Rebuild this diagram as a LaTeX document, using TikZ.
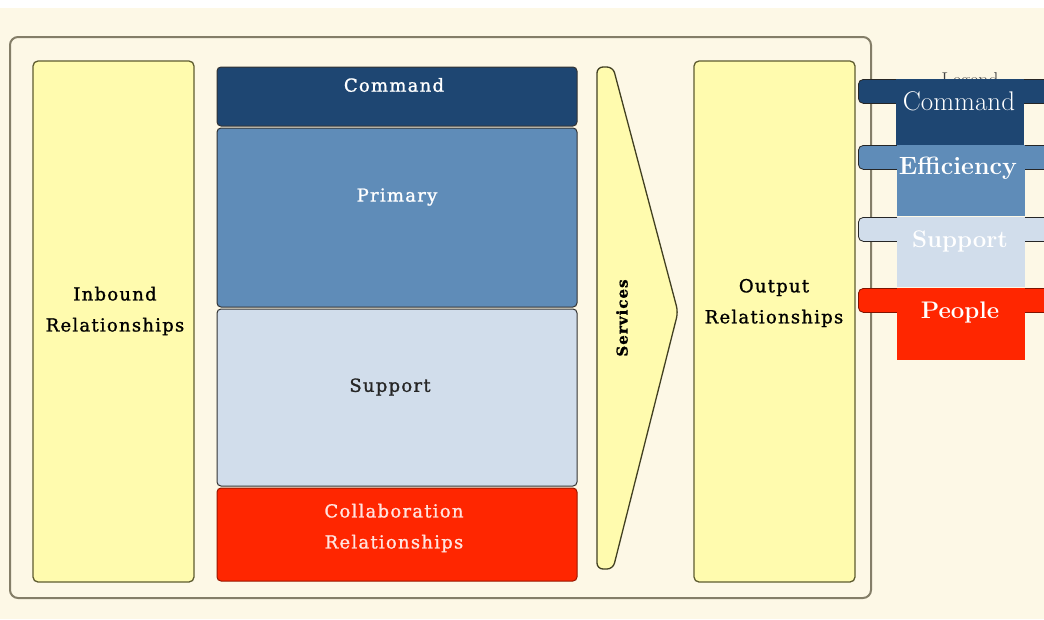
\documentclass[tikz,border=0pt]{standalone}
\usepackage{fontspec}
\newfontfamily\diafont[LetterSpace=7,FakeBold=1.2]{DejaVu Serif}
\definecolor{bgcream}{HTML}{FDF8E6}
\definecolor{yfill}{HTML}{FFFBAE}
\definecolor{ydraw}{HTML}{5E5C30}
\definecolor{cmdblue}{HTML}{1E4672}
\definecolor{primblue}{HTML}{5F8CB8}
\definecolor{suplight}{HTML}{D1DDEB}
\definecolor{colred}{HTML}{FF2600}
\definecolor{framec}{HTML}{847E68}
\definecolor{collabtxt}{HTML}{FFE4E0}
\tikzset{
  ybox/.style={draw=ydraw, line width=1.3pt, fill=yfill, rounded corners=5pt, inner sep=0pt},
  stackbox/.style={draw=black!80, line width=1pt, rounded corners=4pt, inner sep=0pt, minimum width=360pt},
  diatext/.style={font=\diafont\fontsize{18}{31}\selectfont, align=center, inner sep=0pt},
  legbar/.style={draw=black!85, line width=0.8pt, rounded corners=5pt, inner sep=0pt, minimum width=240pt, minimum height=24pt, anchor=north west},
  legrect/.style={inner sep=0pt, minimum width=128pt, anchor=north west},
  legtext/.style={font=\fontsize{24}{28}\selectfont, text=white, inner sep=0pt}
}
\begin{document}
\begin{tikzpicture}[x=1pt,y=-1pt]
\useasboundingbox (0,0) rectangle (1044,619);
\fill[white] (0,0) rectangle (1044,8);
\fill[bgcream] (0,8) rectangle (1044,619);
% frame
\node[draw=framec, line width=2pt, rounded corners=8pt, minimum width=861pt, minimum height=561pt, inner sep=0pt] (frame) at (440.5,317.5) {};
% inbound / output
\node[ybox, minimum width=161pt, minimum height=521pt] (inb) at (113.5,321.5) {};
\node[diatext] (inbt) at (115,311) {Inbound\\Relationships};
\node[ybox, minimum width=161pt, minimum height=521pt] (outb) at (774.5,321.5) {};
\node[diatext] (outbt) at (774,303) {Output\\Relationships};
% stack
\node[stackbox, fill=cmdblue, minimum height=59pt] (cmd) at (397,96.5) {};
\node[diatext, text=white] (cmdt) at (394,85) {Command};
\node[stackbox, fill=primblue, minimum height=179pt] (prim) at (397,217.5) {};
\node[diatext, text=white] (primt) at (397,197) {Primary};
\node[stackbox, fill=suplight, minimum height=177pt] (sup) at (397,397.5) {};
\node[diatext, text=black!85] (supt) at (390,387) {Support};
\node[stackbox, draw=colred!60!black, fill=colred, minimum height=93pt] (col) at (397,534.5) {};
\node[diatext, text=collabtxt] (colt) at (394,528) {Collaboration\\Relationships};
% services chevron
\draw[draw=ydraw!70!black, line width=1.3pt, fill=yfill, rounded corners=6pt]
  (597,67) -- (613,67) -- (678,312) -- (613,569) -- (597,569) -- cycle;
\node[diatext, font=\diafont\bfseries\fontsize{15}{18}\selectfont, rotate=90] (serv) at (622,318) {Services};
% legend
\node[font=\fontsize{20}{22}\selectfont, text=black!75, anchor=base, inner sep=0pt] (legt) at (970,86) {Legend};
\node[legbar, fill=cmdblue] (lb1) at (858,79) {};
\node[legrect, fill=cmdblue, minimum height=72pt] (lr1) at (896,79) {};
\node[legtext, font=\fontsize{27}{30}\selectfont] (lt1) at (959,101) {Command};
\node[legbar, fill=primblue] (lb2) at (858,145) {};
\node[legrect, fill=primblue, minimum height=71pt] (lr2) at (897,145) {};
\node[legtext, font=\bfseries\fontsize{25}{28}\selectfont] (lt2) at (958,168) {Efficiency};
\node[legbar, fill=suplight] (lb3) at (858,217) {};
\node[legrect, fill=suplight, minimum height=70pt] (lr3) at (897,217) {};
\node[legtext, font=\bfseries\fontsize{24}{28}\selectfont] (lt3) at (960,241) {Support};
\node[legbar, draw=colred!50!black, fill=colred] (lb4) at (858,288) {};
\node[legrect, fill=colred, minimum height=72pt] (lr4) at (897,288) {};
\node[legtext, font=\bfseries\fontsize{24}{28}\selectfont] (lt4) at (960,312) {People};
\end{tikzpicture}
\end{document}
